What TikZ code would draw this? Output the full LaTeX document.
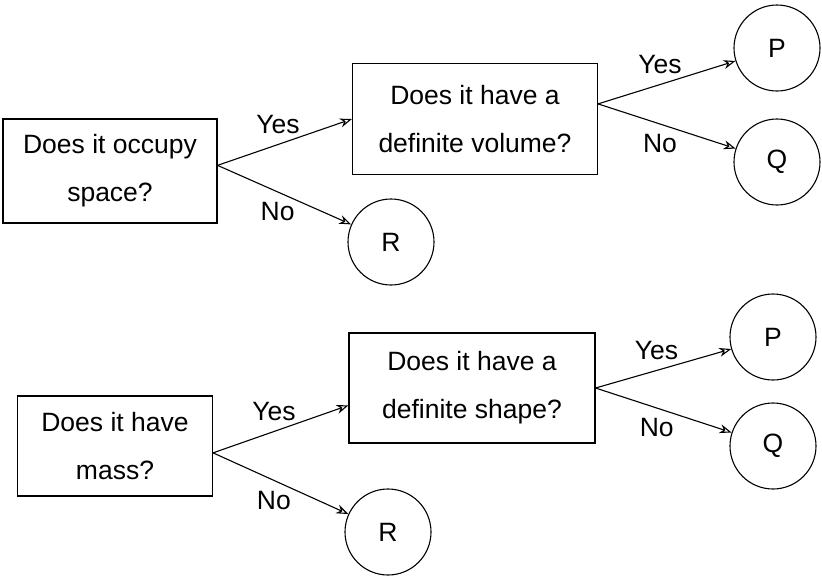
\documentclass[tikz,border=0pt]{standalone}
\usepackage{fontspec}
\setmainfont{Liberation Sans}
\usetikzlibrary{arrows.meta}
\tikzstyle{question}=[draw,rectangle,align=center,inner sep=0pt,line width=1.1pt]
\tikzstyle{answer}=[draw,circle,minimum size=86pt,inner sep=0pt,line width=1.1pt]
\tikzstyle{edge}=[draw,line width=1.1pt,-{Stealth[open,length=12pt,width=9pt]}]
\tikzstyle{lab}=[inner sep=10pt,pos=0.45]

\begin{document}
\begin{tikzpicture}[x=1pt,y=-1pt,font=\fontsize{26.5}{48}\selectfont]
    \useasboundingbox (0,0) rectangle (822,579);
    % First we draw the question boxes
    \foreach \pos/\name/\w/\h/\txt in {{(110,171)/occ/214/104/Does it occupy\\space?}, {(475,119)/vol/245/111/Does it have a\\definite volume?},
        {(115,446)/mass/195/100/Does it have\\mass?}, {(472,388)/shp/246/110/Does it have a\\definite shape?}}
        \node[question,minimum width=\w pt,minimum height=\h pt] (\name) at \pos {\txt};

    % Then the answers
    \foreach \pos/\name/\txt in {{(777,48)/P1/P}, {(777,162)/Q1/Q}, {(391,242)/R1/R},
        {(773,337)/P2/P}, {(773,446)/Q2/Q}, {(388,532)/R2/R}}
        \node[answer] (\name) at \pos {\txt};

    % Connect them with labelled arrows
    \foreach \source/\dest/\side/\word in {occ.3/vol.west/above/Yes, occ.3/R1/below/No, vol.7/P1/above/Yes, vol.7/Q1/below/No,
        mass.-4/shp.188/above/Yes, mass.-4/R2/below/No, shp.east/P2/above/Yes, shp.east/Q2/below/No}
        \path[edge] (\source) -- node[lab,\side] {\word} (\dest);

\end{tikzpicture}
\end{document}
